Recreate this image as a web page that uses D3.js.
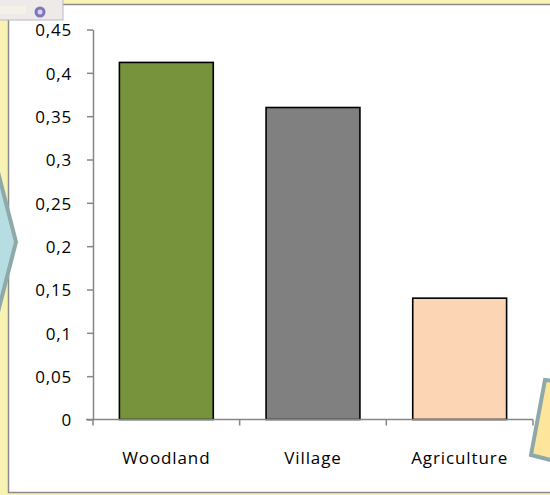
<!DOCTYPE html>
<html><head><meta charset="utf-8">
<script src="https://cdn.jsdelivr.net/npm/d3@7"></script>
<style>body{margin:0;background:#fff}svg{display:block}</style>
</head><body>
<script>
const categories = ["Woodland", "Village", "Agriculture"];
const values = [0.412, 0.36, 0.14];
const colors = ["#77933c", "#808080", "#fcd5b5"];
const yTicks = [0, 0.05, 0.1, 0.15, 0.2, 0.25, 0.3, 0.35, 0.4, 0.45];

const W = 550, H = 495;
const svg = d3.select("body").append("svg").attr("width", W).attr("height", H);

// surrounding page background
svg.append("rect").attr("width", W).attr("height", H).attr("fill", "#f8f3b2");
// chart area
svg.append("rect").attr("x", 8.5).attr("y", 4.5).attr("width", 560).attr("height", 488)
  .attr("fill", "#fff").attr("stroke", "#8a8a8a").attr("stroke-width", 1.5);

const x = d3.scaleBand().domain(categories).range([93, 533]).paddingInner(0.36).paddingOuter(0.18);
const y = d3.scaleLinear().domain([0, 0.45]).range([419.5, 29.5]);

const fmt = d => d3.format("")(d).replace(".", ",");

// y axis
const ya = svg.append("g").attr("transform", "translate(93,0)")
  .call(d3.axisLeft(y).tickValues(yTicks).tickSize(6).tickSizeOuter(0).tickFormat(fmt));
ya.select(".domain").attr("stroke", "#868686").attr("stroke-width", 1.5);
ya.selectAll(".tick line").attr("stroke", "#868686").attr("stroke-width", 1.5);
ya.selectAll(".tick text").attr("x", -21).attr("dy", "0.38em").attr("fill", "#000")
  .style("font-family", "'Open Sans'").style("font-size", "17px").style("letter-spacing", "0.8px");

// bars
svg.selectAll(".bar").data(categories).enter().append("rect")
  .attr("x", d => x(d)).attr("width", x.bandwidth())
  .attr("y", (d, i) => y(values[i])).attr("height", (d, i) => y(0) - y(values[i]))
  .attr("fill", (d, i) => colors[i]).attr("stroke", "#000").attr("stroke-width", 1.6);

// x axis
const xa = svg.append("g").attr("transform", `translate(0,${y(0)})`);
xa.append("line").attr("x1", 86).attr("x2", x.range()[1]).attr("y1", 0).attr("y2", 0)
  .attr("stroke", "#868686").attr("stroke-width", 1.5);
const bounds = [x.range()[0]].concat(categories.map(c => x(c) + x.bandwidth() + x.step() * x.paddingInner() / 2));
bounds[bounds.length - 1] = x.range()[1];
xa.selectAll(".sep").data(bounds).enter().append("line")
  .attr("x1", d => d).attr("x2", d => d).attr("y1", 0).attr("y2", 6)
  .attr("stroke", "#868686").attr("stroke-width", 1.5);
xa.selectAll(".lab").data(categories).enter().append("text")
  .attr("x", d => x(d) + x.bandwidth() / 2).attr("y", 44)
  .attr("text-anchor", "middle").attr("fill", "#000")
  .style("font-family", "'Open Sans'").style("font-size", "17px").style("letter-spacing", "0.9px")
  .text(d => d);

// decorative left arrow shape
svg.append("path").attr("d", "M-20,172 L-2,172 L16,242 L-2,312 L-20,312 Z")
  .attr("fill", "#b6dde1").attr("stroke", "#8ea9aa").attr("stroke-width", 4);

// decorative bottom-right note shape
svg.append("path").attr("d", "M545,380 L600,385 L590,470 L531,455 Z")
  .attr("fill", "#fde59c").attr("stroke", "#8ea9aa").attr("stroke-width", 4);

// top-left widget
const g = svg.append("g");
g.append("rect").attr("x", -2).attr("y", -2).attr("width", 65).attr("height", 22)
  .attr("fill", "#eeeaea").attr("stroke", "#b9b9c0").attr("stroke-width", 1);
g.append("rect").attr("x", 0).attr("y", 6).attr("width", 26).attr("height", 8).attr("fill", "#f4f2e8");
g.append("circle").attr("cx", 40).attr("cy", 12).attr("r", 5.5).attr("fill", "#7d76b8");
g.append("circle").attr("cx", 40).attr("cy", 12).attr("r", 2.5).attr("fill", "#d8d4ee");
</script>
</body></html>
